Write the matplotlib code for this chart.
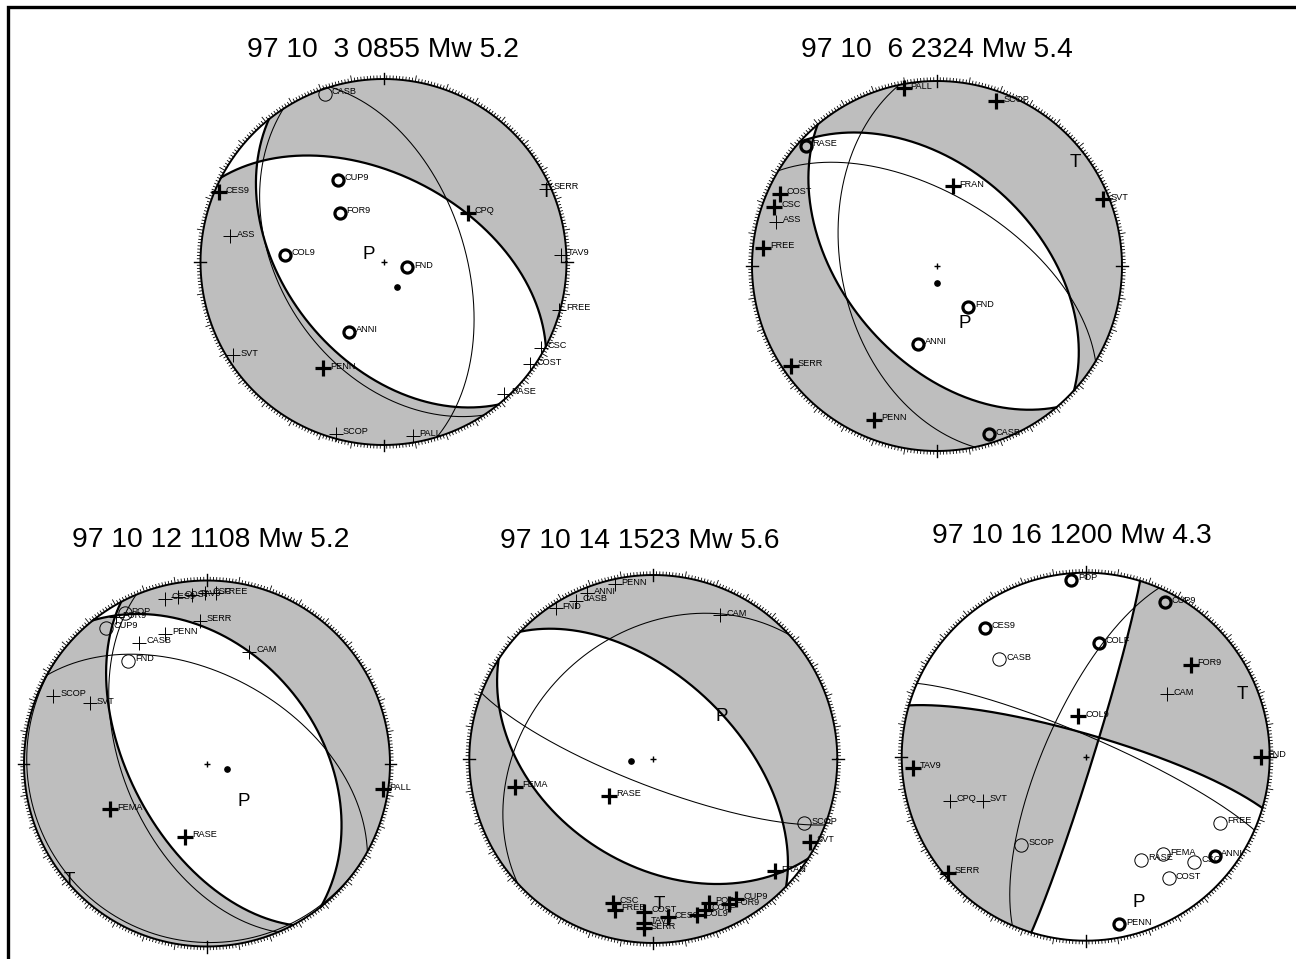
import numpy as np
import matplotlib
matplotlib.use("Agg")
import matplotlib.pyplot as plt
from matplotlib.collections import LineCollection
from matplotlib.patches import Circle

# ---------------- data ----------------
titles = ["97 10  3 0855 Mw 5.2", "97 10  6 2324 Mw 5.4", "97 10 12 1108 Mw 5.2",
          "97 10 14 1523 Mw 5.6", "97 10 16 1200 Mw 4.3"]

# best double-couple nodal planes (strike, dip)
best_strike = [(297.5, 141.2), (312.2, 139.8), (321.5, 152.0), (313.8, 122.8), (286.2, 17.2)]
best_dip    = [(51.0, 46.2),   (46.5, 48.8),   (39.2, 55.8),   (54.0, 42.5),   (80.2, 86.8)]
# alternative acceptable planes
alt_strike = [(146.8, 343.0), (301.0, 168.2), (298.8, 157.2, 125.0), (111.0, 227.5), (293.5, 203.5)]
alt_dip    = [(43.2, 53.2),   (58.8, 47.2),   (50.2, 52.5, 3.0),     (78.0, 33.2),   (81.2, 71.5)]

# P and T axis label positions (normalised projection units)
p_pos = [(-0.08, 0.04), (0.15, -0.31), (0.20, -0.21), (0.37, 0.23), (0.29, -0.79)]
t_pos = [(0.89, 0.38), (0.75, 0.56), (-0.75, -0.64), (0.03, -0.79), (0.85, 0.34)]
dot_pos = [(0.075, -0.135), (0.0, -0.09), (0.11, -0.03), (-0.12, -0.01), None]

# stations: name, x, y, polarity (c=compression, d=dilatation), weight (1 strong, 0 weak)
st_name = [
 ["CASB", "CUP9", "FOR9", "COL9", "FND", "ANNI", "CES9", "CPQ", "SERR", "ASS", "TAV9", "FREE",
  "SVT", "PENN", "CSC", "COST", "RASE", "SCOP", "PALL"],
 ["PALL", "SCOP", "RASE", "FRAN", "SVT", "COST", "CSC", "ASS", "FREE", "FND", "ANNI", "SERR",
  "PENN", "CASB"],
 ["CES9", "COST", "TAV9", "CSC", "FREE", "POP", "FOR9", "CUP9", "SERR", "PENN", "CASB", "CAM",
  "FND", "SCOP", "SVT", "PALL", "FEMA", "RASE"],
 ["PENN", "ANNI", "CASB", "FND", "CAM", "FEMA", "RASE", "SCOP", "SVT", "FRAN", "CSC", "FREE",
  "COST", "TAV9", "SERR", "CES9", "COL9", "COLF", "POP", "FOR9", "CUP9"],
 ["POP", "CUP9", "CES9", "COLF", "CASB", "FOR9", "CAM", "COL9", "FND", "TAV9", "CPQ", "SVT",
  "FREE", "SCOP", "FEMA", "RASE", "CSC", "ANNI", "COST", "SERR", "PENN"],
]
st_x = [
 [-0.32, -0.25, -0.24, -0.54, 0.13, -0.19, -0.90, 0.46, 0.89, -0.84, 0.97, 0.96,
  -0.82, -0.33, 0.86, 0.80, 0.66, -0.26, 0.16],
 [-0.18, 0.32, -0.71, 0.085, 0.90, -0.85, -0.88, -0.87, -0.94, 0.17, -0.10, -0.79,
  -0.34, 0.28],
 [-0.23, -0.16, -0.08, -0.01, 0.05, -0.45, -0.50, -0.55, -0.04, -0.23, -0.37, 0.23,
  -0.43, -0.84, -0.64, 0.96, -0.53, -0.12],
 [-0.21, -0.36, -0.42, -0.53, 0.36, -0.75, -0.24, 0.82, 0.85, 0.66, -0.22, -0.21,
  -0.05, -0.05, -0.05, 0.08, 0.24, 0.28, 0.30, 0.41, 0.45],
 [-0.08, 0.43, -0.55, 0.07, -0.47, 0.57, 0.44, -0.04, 0.95, -0.94, -0.74, -0.56,
  0.73, -0.35, 0.42, 0.30, 0.59, 0.70, 0.45, -0.75, 0.18],
]
st_y = [
 [0.92, 0.45, 0.27, 0.04, -0.03, -0.38, 0.38, 0.27, 0.40, 0.14, 0.04, -0.26,
  -0.51, -0.58, -0.47, -0.56, -0.72, -0.94, -0.95],
 [0.96, 0.89, 0.65, 0.43, 0.36, 0.39, 0.32, 0.24, 0.10, -0.22, -0.42, -0.54,
  -0.83, -0.91],
 [0.90, 0.91, 0.92, 0.93, 0.93, 0.82, 0.80, 0.74, 0.78, 0.71, 0.66, 0.61,
  0.56, 0.37, 0.33, -0.14, -0.25, -0.40],
 [0.95, 0.90, 0.86, 0.82, 0.78, -0.15, -0.20, -0.35, -0.45, -0.61, -0.78, -0.82,
  -0.83, -0.89, -0.92, -0.86, -0.85, -0.82, -0.78, -0.79, -0.76],
 [0.96, 0.84, 0.70, 0.62, 0.53, 0.50, 0.34, 0.22, 0.00, -0.06, -0.24, -0.24,
  -0.36, -0.48, -0.53, -0.56, -0.57, -0.54, -0.66, -0.63, -0.91],
]
st_pol = [
 "ddddddccccccccccccc",
 "ccdccccccddccd",
 "cccccdcdccccdcccccc",
 "cccccccdccccccccccccc",
 "dddddcccccccdddddddcd",
]
st_wt = [
 "0111111100000100000",
 "11111110111111",
 "000000000000000111",
 "000001101111111111111",
 "111101011100000001011",
]

# ---------------- layout ----------------
W, H = 1296, 959
plt.rcParams['font.family'] = ['Liberation Sans', 'DejaVu Sans']
fig = plt.figure(figsize=(W/100, H/100), dpi=100)

centres = [(383.5, 262.0), (937.0, 266.0), (207.0, 763.5), (653.3, 759.0), (1085.7, 756.7)]
radii = [183, 185, 183, 184, 184]
title_xy = [(383, 57), (936.5, 57), (210.5, 547), (639.5, 548), (1072, 543)]
GRAY = '#bebebe'


def great_circle(s, d, n=361):
    t = np.linspace(0, np.pi, n)
    s = np.radians(s); d = np.radians(d)
    pE = np.cos(t)*np.sin(s) + np.sin(t)*np.cos(d)*np.sin(s+np.pi/2)
    pN = np.cos(t)*np.cos(s) + np.sin(t)*np.cos(d)*np.cos(s+np.pi/2)
    pD = np.sin(t)*np.sin(d)
    f = 1/np.sqrt(1+pD)
    return pE*f, pN*f


def normal(s, d):
    s = np.radians(s); d = np.radians(d)
    return np.array([np.sin(d)*np.sin(s-np.pi/2), np.sin(d)*np.cos(s-np.pi/2), np.cos(d)])


def inv_proj(x, y):
    r2 = np.clip(x*x + y*y, 0, 1)
    k = np.sqrt(2 - r2)
    return x*k, y*k, 1 - r2


bg = fig.add_axes([0, 0, 1, 1])
bg.set_xlim(0, W); bg.set_ylim(H, 0); bg.axis('off')
bg.plot([8, 8, W+5], [H+5, 7, 7], color='k', lw=2.4, solid_joinstyle='miter')
for (tx, ty), t in zip(title_xy, titles):
    bg.text(tx, ty, t, ha='center', va='baseline', fontsize=20.3)

for i in range(5):
    cx, cy = centres[i]; R = radii[i]
    ax = fig.add_axes([(cx-1.15*R)/W, (H-cy-1.15*R)/H, 2.3*R/W, 2.3*R/H])
    ax.set_xlim(-1.15, 1.15); ax.set_ylim(-1.15, 1.15); ax.axis('off')

    # compressional quadrants
    g = np.linspace(-1.01, 1.01, 700)
    X, Y = np.meshgrid(g, g)
    pE, pN, pD = inv_proj(X, Y)
    n1 = normal(best_strike[i][0], best_dip[i][0])
    n2 = normal(best_strike[i][1], best_dip[i][1])
    F = (n1[0]*pE + n1[1]*pN + n1[2]*pD) * (n2[0]*pE + n2[1]*pN + n2[2]*pD)
    tE, tN, tD = inv_proj(np.array(t_pos[i][0]), np.array(t_pos[i][1]))
    sT = np.sign((n1 @ [tE, tN, tD]) * (n2 @ [tE, tN, tD]))
    cf = ax.contourf(X, Y, F*sT, levels=[0, 1e9], colors=[GRAY])
    cf.set_clip_path(Circle((0, 0), 1.0, transform=ax.transData))

    for s, d in zip(alt_strike[i], alt_dip[i]):
        gx, gy = great_circle(s, d)
        ax.plot(gx, gy, color='k', lw=0.75)
    for s, d in zip(best_strike[i], best_dip[i]):
        gx, gy = great_circle(s, d)
        ax.plot(gx, gy, color='k', lw=1.6)

    th = np.linspace(0, 2*np.pi, 721)
    ax.plot(np.cos(th), np.sin(th), color='k', lw=1.4)
    segs = []
    for a in range(0, 360, 1):
        ar = np.radians(a)
        L = 0.035 if a % 10 == 0 else 0.02
        segs.append([(np.sin(ar), np.cos(ar)), ((1+L)*np.sin(ar), (1+L)*np.cos(ar))])
    ax.add_collection(LineCollection(segs, colors='k', linewidths=0.6))
    for a in (0, 90, 180, 270):
        ar = np.radians(a)
        ax.plot([0.97*np.sin(ar), 1.035*np.sin(ar)], [0.97*np.cos(ar), 1.035*np.cos(ar)], 'k', lw=1.0)

    ax.plot(0, 0, marker='+', ms=4.5, mew=1.0, color='k')
    if dot_pos[i] is not None:
        ax.plot(*dot_pos[i], marker='o', ms=3.8, color='k')

    ax.text(*p_pos[i], 'P', ha='center', va='center', fontsize=13.5)
    ax.text(*t_pos[i], 'T', ha='center', va='center', fontsize=13.5)

    for nm, x, y, pol, wt in zip(st_name[i], st_x[i], st_y[i], st_pol[i], st_wt[i]):
        strong = wt == '1'
        if pol == 'c':
            ax.plot(x, y, marker='+', ms=11.0 if strong else 9.5, mew=2.3 if strong else 0.7,
                    color='k', zorder=5)
        else:
            ax.plot(x, y, marker='o', ms=8.0 if strong else 9.6, mew=2.3 if strong else 0.7,
                    mfc='none', mec='k', zorder=5)
        ax.annotate(nm, (x, y), xytext=(5.0, 1.5), textcoords='offset points',
                    fontsize=6.6, ha='left', va='center', zorder=6, annotation_clip=False)

fig.savefig('out.png', dpi=100)
